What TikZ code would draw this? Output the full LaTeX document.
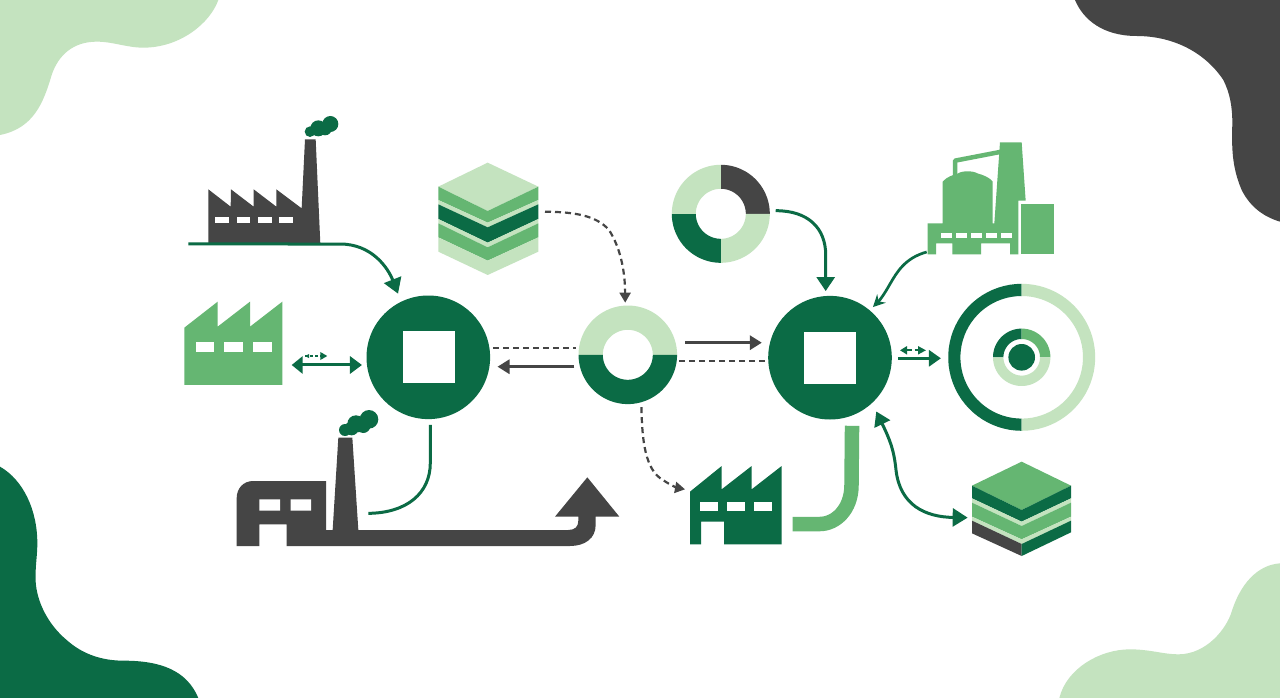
\documentclass[tikz,border=0pt]{standalone}
\usetikzlibrary{arrows.meta}
\definecolor{dkgreen}{HTML}{0B6B45}
\definecolor{mdgreen}{HTML}{65B672}
\definecolor{ltgreen}{HTML}{C4E3BF}
\definecolor{charcoal}{HTML}{454545}
\newcommand{\ringseg}[7]{%
  \fill[#1] plot[domain=#6:#7,samples=40] ({#2+#4*cos(\x)},{#3+#4*sin(\x)})
    -- plot[domain=#7:#6,samples=40] ({#2+#5*cos(\x)},{#3+#5*sin(\x)}) -- cycle;}
\newcommand{\winrow}[5]{% color, y1, y2, width, list of left x
  \foreach \wx in {#5} {\fill[#1] (\wx,#2) rectangle ++(#4,#3-#2);}}
\tikzset{
  zoomat/.style 2 args={shift={(#1pt,-#2pt)},x=0.33333pt,y=-0.33333pt},
  hub/.style={circle,fill=dkgreen,inner sep=0pt,outer sep=0pt,minimum size=123.6pt},
  hubsquare/.style={rectangle,fill=white,inner sep=0pt,outer sep=0pt,minimum size=52pt},
  ring/.style={circle,inner sep=0pt,outer sep=0pt},
  greenlink/.style={draw=dkgreen,line width=3pt},
  greylink/.style={draw=charcoal,line width=3pt},
  dashlink/.style={draw=charcoal,line width=2.2pt,dash pattern=on 6pt off 4pt},
  bigtip/.style={-{Triangle[length=15pt,width=18pt]}},
  greytip/.style={-{Triangle[length=12pt,width=14pt]}},
  dashtip/.style={-{Triangle[length=10pt,width=11pt]}},
}
\begin{document}
\begin{tikzpicture}[x=1pt,y=-1pt,line join=miter]
\useasboundingbox (0,0) rectangle (1280,698);
\fill[white] (0,0) rectangle (1280,698);

% ---- corner blobs
\begin{scope}[zoomat={0}{0}]
\fill[ltgreen] (0,0) -- (655,0) .. controls (630,70) and (540,143) .. (430,143)
  .. controls (380,143) and (340,125) .. (290,125)
  .. controls (220,125) and (175,165) .. (155,225)
  .. controls (130,310) and (100,385) .. (0,405) -- cycle;
\end{scope}
\begin{scope}[zoomat={1060}{0}]
\fill[charcoal] (45,0) .. controls (70,60) and (130,108) .. (230,108)
  .. controls (330,108) and (430,150) .. (490,240)
  .. controls (510,280) and (517,320) .. (517,370)
  .. controls (515,440) and (515,500) .. (545,570)
  .. controls (570,620) and (610,650) .. (660,665) -- (660,0) -- cycle;
\end{scope}
\begin{scope}[zoomat={0}{460}]
\fill[dkgreen] (0,20) .. controls (70,60) and (112,150) .. (112,250)
  .. controls (112,290) and (105,320) .. (107,365)
  .. controls (110,420) and (140,490) .. (200,540)
  .. controls (250,585) and (310,602) .. (370,602)
  .. controls (480,602) and (560,630) .. (595,714) -- (0,714) -- cycle;
\end{scope}
\begin{scope}[zoomat={1050}{555}]
\fill[ltgreen] (690,25) .. controls (620,30) and (570,90) .. (545,170)
  .. controls (530,220) and (470,298) .. (385,298)
  .. controls (340,298) and (300,283) .. (240,283)
  .. controls (150,283) and (50,340) .. (28,429) -- (690,429) -- cycle;
\end{scope}

% ---- hubs and rings (named)
\node[hub] (hubL) at (428.3,357.3) {};
\node[hubsquare] (squareL) at (428.5,357.2) {};
\node[hub] (hubR) at (830,357.7) {};
\node[hubsquare] (squareR) at (830,358) {};
\node[ring,minimum size=98.6pt] (donutM) at (627.8,354.8) {};
\node[ring,minimum size=98pt] (donutT) at (720.8,213.8) {};
\node[ring,minimum size=147pt] (target) at (1021.7,357.3) {};

\ringseg{ltgreen}{627.8}{354.8}{49.3}{25}{180}{360}
\ringseg{dkgreen}{627.8}{354.8}{49.3}{25}{0}{180}

\ringseg{charcoal}{720.8}{213.8}{49}{25}{270}{360}
\ringseg{ltgreen}{720.8}{213.8}{49}{25}{0}{90}
\ringseg{dkgreen}{720.8}{213.8}{49}{25}{90}{180}
\ringseg{ltgreen}{720.8}{213.8}{49}{25}{180}{270}

\ringseg{dkgreen}{1021.7}{357.3}{73.5}{61.3}{90}{270}
\ringseg{ltgreen}{1021.7}{357.3}{73.5}{61.3}{-90}{90}
\ringseg{dkgreen}{1021.7}{357.3}{28.7}{18.3}{180}{270}
\ringseg{mdgreen}{1021.7}{357.3}{28.7}{18.3}{270}{360}
\ringseg{ltgreen}{1021.7}{357.3}{28.7}{18.3}{0}{180}
\node[circle,fill=dkgreen,inner sep=0pt,minimum size=26.6pt] (targetcore) at (1021.7,357.3) {};

% ---- factory A (top left, charcoal) + free ends
\begin{scope}[zoomat={170}{100}]
\fill[charcoal] (115,268) -- (182,320) -- (183,268) -- (251,320) -- (251,268) -- (319,320)
  -- (319,268) -- (395,325) -- (405,118) -- (437,118) -- (451,432) -- (115,432) -- cycle;
\winrow{white}{350}{370}{41}{136,200,264,328}
\fill[dkgreen] (420,95) circle[radius=5.3pt] (445,85) circle[radius=8pt] (465,85) circle[radius=7pt] (481,72) circle[radius=8pt];
\coordinate (factoryAline) at (55,432);
\coordinate (factoryBedge) at (365,795);
\coordinate (smallAl) at (405,768);
\coordinate (smallAr) at (472,768);
\end{scope}

% ---- factory B (left, mid green)
\begin{scope}[zoomat={170}{100}]
\fill[mdgreen] (43,683) -- (143,605) -- (143,680) -- (240,605) -- (240,680) -- (337,605)
  -- (337,855) -- (43,855) -- cycle;
\winrow{white}{727}{756}{56}{77,163,250}
\end{scope}

% ---- factory D with long arrow (bottom left)
\begin{scope}[zoomat={220}{400}]
\fill[charcoal] (50,438) -- (50,295) .. controls (50,265) and (70,243) .. (100,243)
  -- (318,243) -- (318,390) -- (338,390) -- (355,113) -- (397,113) -- (415,390)
  -- (1045,390) .. controls (1065,390) and (1075,380) .. (1075,362) -- (1075,350)
  -- (1005,350) -- (1102,232) -- (1198,350) -- (1127,350) -- (1127,375)
  .. controls (1127,415) and (1095,438) .. (1050,438)
  -- (200,438) -- (200,373) -- (118,373) -- (118,438) -- cycle;
\fill[white] (118,298) rectangle (180,332) (212,298) rectangle (273,332);
\fill[dkgreen] (375,90) circle[radius=6pt] (395,85) circle[radius=7pt] (408,72) circle[radius=8.7pt] (430,78) circle[radius=7pt] (447,58) circle[radius=9.3pt];
\coordinate (factoryDline) at (445,340);
\end{scope}

% ---- factory C (bottom centre)
\begin{scope}[zoomat={630}{400}]
\fill[dkgreen] (180,275) -- (275,198) -- (275,268) -- (365,198) -- (365,268) -- (455,198)
  -- (455,433) -- (282,433) -- (282,365) -- (213,365) -- (213,433) -- (180,433) -- cycle;
\winrow{white}{307}{333}{53}{210,292,373}
\coordinate (factoryCtip) at (165,268);
\coordinate (factoryCpipe) at (488,372);
\coordinate (cubeBtip) at (1013,353);
\end{scope}

% ---- cube A
\begin{scope}[zoomat={430}{150}]
\fill[ltgreen] (173,38) -- (325,110) -- (173,183) -- (25,110) -- cycle;
\fill[mdgreen] (25,110) -- (173,183) -- (325,110) -- (325,150) -- (173,218) -- (25,150) -- cycle;
\fill[ltgreen] (25,150) -- (173,218) -- (325,150) -- (325,163) -- (173,232) -- (25,163) -- cycle;
\fill[dkgreen] (25,163) -- (173,232) -- (325,163) -- (325,207) -- (173,278) -- (25,207) -- cycle;
\fill[ltgreen] (25,207) -- (173,278) -- (325,207) -- (325,220) -- (173,292) -- (25,220) -- cycle;
\fill[mdgreen] (25,220) -- (173,292) -- (325,220) -- (325,262) -- (173,332) -- (25,262) -- cycle;
\fill[ltgreen] (25,262) -- (173,332) -- (325,262) -- (325,305) -- (173,375) -- (25,305) -- cycle;
\coordinate (cubeAedge) at (345,185);
\end{scope}

% ---- cube B
\begin{scope}[zoomat={630}{400}]
\fill[mdgreen] (1175,185) -- (1323,257) -- (1175,330) -- (1026,257) -- cycle;
\fill[dkgreen] (1026,257) -- (1175,330) -- (1323,257) -- (1323,295) -- (1175,365) -- (1026,295) -- cycle;
\fill[ltgreen] (1026,295) -- (1175,365) -- (1323,295) -- (1323,308) -- (1175,378) -- (1026,308) -- cycle;
\fill[mdgreen] (1026,308) -- (1175,378) -- (1323,308) -- (1323,350) -- (1175,418) -- (1026,350) -- cycle;
\fill[ltgreen] (1026,350) -- (1175,418) -- (1323,350) -- (1323,362) -- (1175,432) -- (1026,362) -- cycle;
\fill[charcoal] (1026,362) -- (1175,432) -- (1175,468) -- (1026,400) -- cycle;
\fill[dkgreen] (1175,432) -- (1323,362) -- (1323,397) -- (1175,468) -- cycle;
\end{scope}

% ---- plant
\begin{scope}[zoomat={660}{130}]
\fill[mdgreen] (803,280) -- (848,280) -- (848,155) .. controls (860,140) and (880,135) .. (895,130)
  .. controls (905,122) and (940,122) .. (952,130) .. controls (970,135) and (990,143) .. (998,155)
  -- (998,280) -- (1003,280) -- (1020,37) -- (1085,37) -- (1097,212) -- (1075,212)
  -- (1075,373) -- (1050,373) -- (1050,340) -- (963,340) -- (963,373) -- (877,373)
  -- (877,340) -- (828,340) -- (828,373) -- (803,373) -- cycle;
\draw[mdgreen,line width=4.5pt,line join=round] (885,135) -- (885,92) -- (1025,65);
\fill[mdgreen] (1083,222) rectangle (1182,373);
\winrow{white}{310}{323}{32}{843,888,933,978,1023}
\coordinate (plantEdge) at (800,366);
\coordinate (donutTedge) at (347,242);
\end{scope}

% ---- helper levels for straight connectors
\coordinate (levelA) at (0,347.7);
\coordinate (levelB) at (0,366.7);
\coordinate (levelC) at (0,342.7);
\coordinate (levelD) at (0,360.7);
\coordinate (levelE) at (0,358.3);

% ---- connectors
\begin{scope}[zoomat={170}{100}]
\draw[dkgreen,line width=1.8pt,dash pattern=on 3pt off 2pt,-{Triangle[length=7pt,width=7.5pt]}] (smallAl) -- (smallAr);
\end{scope}
\fill[dkgreen] (305,356) -- (309,354) -- (309,358) -- cycle;
\draw[greenlink,{Triangle[length=11pt,width=17pt]}-{Triangle[length=12pt,width=17pt]},shorten >=5pt] (factoryBedge) -- (hubL.187 |- factoryBedge);
\draw[greenlink,bigtip,shorten >=8.7pt] (factoryAline) -- (340,244)
  .. controls (372,244) and (388,268) .. (hubL.116.5);
\draw[greenlink,shorten <=5.7pt] (hubL.-88) -- (430.3,463)
  .. controls (430.3,493) and (407,513) .. (factoryDline);
\draw[dashlink,shorten <=3.7pt,shorten >=3.3pt] (hubL.8.9 |- levelA) -- (donutM.171.7 |- levelA);
\draw[greylink,greytip,shorten <=5.7pt,shorten >=8pt] (donutM.194 |- levelB) -- (hubL.-8.7 |- levelB);
\draw[greylink,greytip,shorten <=9.4pt,shorten >=8.45pt] (donutM.14.2 |- levelC) -- (hubR.165.9 |- levelC);
\draw[dashlink,shorten <=2.6pt,shorten >=3.4pt] (donutM.-6.9 |- levelD) -- (hubR.182.8 |- levelD);
\draw[dashlink,dashtip,shorten >=2.9pt] (cubeAedge) .. controls (573,212) and (596,215) .. (609,230)
  .. controls (620,247) and (625,270) .. (donutM.93.3);
\draw[dashlink,dashtip,shorten <=5pt] (donutM.-74.5) .. controls (642,440) and (645,470) .. (663,480)
  .. controls (670,485) and (678,488) .. (factoryCtip);
\draw[greenlink,-{Triangle[length=14pt,width=18pt]},shorten >=5pt] (donutTedge)
  -- (776,210.7) .. controls (808,210.7) and (825.7,228) .. (825.7,255) -- (hubR.94);
\draw[greenlink,line width=2.7pt,-{Stealth[length=12pt,width=12pt]},shorten >=4.6pt] (plantEdge)
  .. controls (905,258) and (897,272) .. (890,284) .. controls (885,293) and (880,300) .. (hubR.50.3);
\draw[mdgreen,line width=14.5pt,shorten <=10.4pt] (hubR.-69.6) -- (851.5,485)
  .. controls (851.5,510) and (835,524) .. (820,524) -- (factoryCpipe);
\draw[greenlink,{Triangle[length=14pt,width=17pt]}-{Triangle[length=15pt,width=18pt]},shorten <=9.5pt]
  (hubR.-47.3) .. controls (890,440) and (894,450) .. (896,470)
  .. controls (900,505) and (925,517) .. (cubeBtip);
\draw[dkgreen,line width=3.4pt,-{Triangle[length=12pt,width=16pt]},shorten <=6.6pt,shorten >=7.3pt] (hubR.east |- levelE) -- (target.west |- levelE);
\coordinate (smallRl) at (900,350.3);
\coordinate (smallRr) at (926,350.3);
\draw[dkgreen,line width=1.8pt,dash pattern=on 5pt off 3pt,{Triangle[length=7pt,width=8pt]}-{Triangle[length=8pt,width=8pt]}] (smallRl) -- (smallRr);
\end{tikzpicture}
\end{document}
